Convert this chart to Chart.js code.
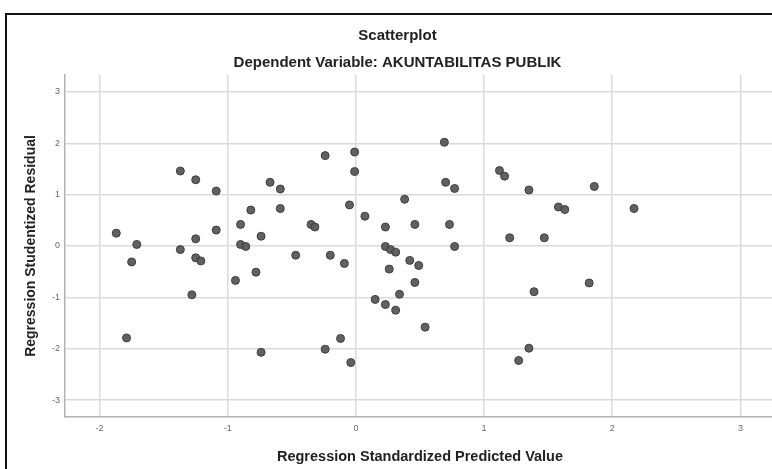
<!DOCTYPE html>
<html>
<head>
<meta charset="utf-8">
<script src="https://cdn.jsdelivr.net/npm/chart.js@4/dist/chart.umd.min.js"></script>
<style>
  html, body { margin: 0; padding: 0; background: #fff; overflow: hidden; }
  #wrap { width: 790px; height: 469px; }
</style>
</head>
<body>
<div id="wrap"><canvas id="scatterChart" width="790" height="469"></canvas></div>
<script>
// Regression Standardized Predicted Value (x) / Regression Studentized Residual (y)
const predicted = [-1.87, -1.71, -1.75, -1.79, -1.37, -1.25, -1.09, -1.09, -1.25, -1.37,
                   -1.25, -1.21, -1.28, -0.90, -0.82, -0.90, -0.86, -0.74, -0.67, -0.59,
                   -0.59, -0.94, -0.78, -0.74, -0.47, -0.24, -0.01, -0.01, -0.35, -0.32,
                   -0.20, -0.05, -0.09, -0.24, -0.12, -0.04, 0.07, 0.23, 0.23, 0.27,
                   0.31, 0.26, 0.38, 0.46, 0.42, 0.49, 0.46, 0.15, 0.23, 0.31,
                   0.34, 0.54, 0.69, 0.70, 0.77, 0.73, 0.77, 1.12, 1.16, 1.35,
                   1.86, 1.58, 1.63, 2.17, 1.20, 1.47, 1.82, 1.39, 1.35, 1.27];
const residual = [0.25, 0.03, -0.31, -1.79, 1.46, 1.29, 1.07, 0.31, 0.14, -0.07,
                  -0.23, -0.29, -0.95, 0.42, 0.70, 0.03, -0.01, 0.19, 1.24, 1.11,
                  0.73, -0.67, -0.51, -2.07, -0.18, 1.76, 1.83, 1.45, 0.42, 0.37,
                  -0.18, 0.80, -0.34, -2.01, -1.80, -2.27, 0.58, 0.37, -0.01, -0.07,
                  -0.12, -0.45, 0.91, 0.42, -0.28, -0.38, -0.71, -1.04, -1.14, -1.25,
                  -0.94, -1.58, 2.02, 1.24, 1.12, 0.42, -0.01, 1.47, 1.36, 1.09,
                  1.16, 0.76, 0.71, 0.73, 0.16, 0.16, -0.72, -0.89, -1.99, -2.23];
const xTicks = [-2, -1, 0, 1, 2, 3];
const yTicks = [-3, -2, -1, 0, 1, 2, 3];

const points = predicted.map((x, i) => ({ x: x, y: residual[i] }));
const fontFam = "'Liberation Sans', Arial, sans-serif";

// black frame of the SPSS output (left + top edges)
const framePlugin = {
    id: 'frame',
    beforeDraw(chart) {
        const c = chart.ctx;
        c.save();
        c.fillStyle = '#fff';
        c.fillRect(0, 0, chart.width, chart.height);
        c.fillStyle = '#111';
        c.fillRect(5, 13, 2, chart.height - 13);
        c.fillRect(5, 13, chart.width - 5, 2);
        c.restore();
    }
};

const ctx = document.getElementById('scatterChart').getContext('2d');
const scatterChart = new Chart(ctx, {
    type: 'scatter',
    data: {
        datasets: [{
            data: points,
            pointRadius: 4,
            pointHoverRadius: 4,
            pointBackgroundColor: 'rgba(88,88,88,0.95)',
            pointBorderColor: '#3e3e3e',
            pointBorderWidth: 1
        }]
    },
    options: {
        responsive: false,
        animation: false,
        layout: { padding: { left: 20, right: 15, top: 0, bottom: 0 } },
        scales: {
            x: {
                type: 'linear',
                min: -2.27,
                max: 3.27,
                afterBuildTicks: (s) => { s.ticks = xTicks.map(v => ({ value: v })); },
                afterFit: (s) => { s.height = 52; },
                grid: { color: '#dadada', lineWidth: 1.5, drawTicks: false },
                border: { color: '#b3b3b3', width: 1.5 },
                ticks: { padding: 6, color: '#666', font: { family: fontFam, size: 9 } },
                title: {
                    display: true,
                    text: 'Regression Standardized Predicted Value',
                    color: '#222',
                    font: { family: fontFam, size: 14.5, weight: 'bold' },
                    padding: { top: 0, bottom: 3.3 }
                }
            },
            y: {
                type: 'linear',
                min: -3.33,
                max: 3.33,
                afterBuildTicks: (s) => { s.ticks = yTicks.map(v => ({ value: v })); },
                afterFit: (s) => { s.width = 45; },
                grid: { color: '#dadada', lineWidth: 1.5, drawTicks: false },
                border: { color: '#b3b3b3', width: 1.5 },
                ticks: { padding: 5, color: '#666', font: { family: fontFam, size: 9 } },
                title: {
                    display: true,
                    text: 'Regression Studentized Residual',
                    color: '#222',
                    font: { family: fontFam, size: 14, weight: 'bold' },
                    padding: { top: 2.6, bottom: 0 }
                }
            }
        },
        plugins: {
            legend: { display: false },
            tooltip: { enabled: false },
            title: {
                display: true,
                text: 'Scatterplot',
                color: '#222',
                font: { family: fontFam, size: 15, weight: 'bold' },
                padding: { top: 27, bottom: 4 }
            },
            subtitle: {
                display: true,
                text: 'Dependent Variable: AKUNTABILITAS PUBLIK',
                color: '#222',
                font: { family: fontFam, size: 15, weight: 'bold' },
                padding: { top: 5, bottom: 3 }
            }
        }
    },
    plugins: [framePlugin]
});
</script>
</body>
</html>
